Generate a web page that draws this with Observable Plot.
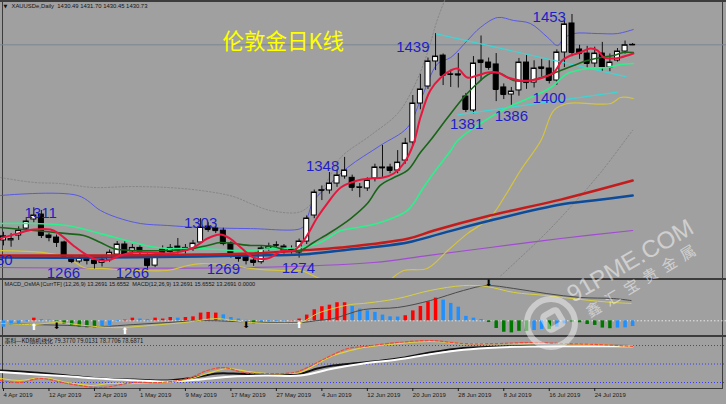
<!DOCTYPE html>
<html><head><meta charset="utf-8">
<script src="https://cdn.jsdelivr.net/npm/d3@7"></script>
<script src="https://cdn.jsdelivr.net/npm/@observablehq/plot@0.6"></script>
<style>
html,body{margin:0;padding:0;background:#a0a0a0;}
#wrap{position:relative;width:726px;height:404px;overflow:hidden;background:#a0a0a0;}
.ln{position:absolute;background:#3c3c3c;}
text{white-space:pre;}
</style></head><body>
<div id="wrap"></div>
<script>
// ---------- data ----------
const tickBars = [0,6,12,18,24,30,36,42,48,54,60,66,72,78];
const tickLabels = ["4 Apr 2019","12 Apr 2019","23 Apr 2019","1 May 2019","9 May 2019","17 May 2019","27 May 2019","4 Jun 2019","12 Jun 2019","20 Jun 2019","28 Jun 2019","8 Jul 2019","16 Jul 2019","24 Jul 2019"];

const open  = [1287,1287,1290.6,1295.7,1302.4,1306,1290.6,1289.1,1285.5,1274.4,1271.5,1273.7,1272.2,1270.5,1272.5,1276.6,1284,1279,1281.5,1276,1268.5,1280.3,1278.5,1282.5,1279.6,1281,1285.5,1297.2,1295.7,1294.2,1284.7,1274.4,1275.2,1272.2,1271,1281,1283.3,1282.5,1280.5,1278.1,1286.2,1305.3,1323.5,1323.7,1328.8,1334,1333,1326,1325.2,1332.5,1340.6,1340.6,1338.4,1345.7,1359,1387.6,1400.1,1418.5,1422.8,1409,1409,1392.7,1382.5,1419.2,1417.7,1416.3,1399.4,1394.2,1397.2,1417.7,1403,1414.1,1413.3,1404.5,1425.1,1446.4,1427.3,1424.3,1417,1424.3,1414.1,1419.2,1425.8,1430.49];
const high  = [1293,1292,1297,1303,1311,1309,1292,1291,1286.5,1276,1276,1275,1273.7,1275,1280,1286.2,1286,1284,1283,1277,1277,1283,1284,1288.4,1284,1287,1303,1300,1297,1296,1286,1277,1277,1274,1283,1285,1286,1284,1283,1288,1305,1324,1327,1336.9,1338.8,1348,1335,1328.8,1333,1343,1356.8,1343,1353,1362,1393.5,1409,1421,1439,1424,1412,1424.3,1395,1422.1,1437.2,1421,1424.3,1402,1399.4,1420.7,1422.9,1419,1420,1419,1427,1448,1453,1430.4,1429.6,1429,1432.5,1424,1428,1433.5,1431.70];
const low   = [1283,1282,1287,1294,1300,1288.4,1286,1281.8,1274.4,1270,1270,1269,1266,1267.5,1271,1273.7,1274,1277,1276,1266,1267,1276,1276,1277,1277,1279,1284,1293,1292,1283,1274,1271,1269,1268,1269.5,1279,1281,1277,1277,1274,1284,1303,1316.3,1321,1326,1332,1323,1318.4,1323,1330,1333.3,1336,1336,1343,1356,1383,1398,1411.8,1400.8,1399.4,1399,1381,1380,1404.2,1412,1389,1390.5,1386,1393,1398,1399,1407,1402,1401,1414,1422,1420,1413.3,1414,1410.4,1411,1418,1424,1430.45];
const close = [1290,1288,1294.2,1300.9,1305.3,1290.6,1289.1,1285.5,1275.2,1271.5,1273.7,1272.2,1270,1272.5,1278,1284,1276.6,1281.5,1279,1268.5,1275.5,1278.1,1281.5,1279.6,1281.5,1284.7,1296.5,1295,1294.2,1284.7,1276.6,1273.7,1272.2,1270.8,1281.1,1282.5,1283.5,1279.6,1280,1286.2,1303.1,1322.2,1323.9,1328.8,1334.7,1338.4,1326,1325.9,1331,1340.6,1340.3,1338.4,1344.2,1358.2,1387.6,1397.9,1418.5,1422.1,1408.2,1408.9,1408.5,1383.2,1417,1417.7,1414.1,1397.9,1394.2,1396.4,1417.7,1403,1413.3,1413.3,1404.5,1425.1,1445.7,1425.1,1424.3,1417,1424.3,1414.1,1417.7,1425.8,1430.4,1430.73];

// indicator lines: [bar, price]
const maRed = [[-0.4,1288.4],[1.8,1292],[4,1295],[6.2,1295],[7.3,1292],[9.2,1283.3],[11.1,1275.9],[12.8,1272.2],[14.1,1273],[15.4,1275.9],[17.2,1278.1],[19.4,1278.1],[21.6,1277.4],[23.4,1278.9],[25.1,1281.8],[26.9,1288.4],[28.6,1291.4],[29.9,1288.4],[31.3,1281.8],[33,1274.4],[34.8,1273.7],[36.9,1279.6],[38.3,1279.6],[39.6,1286.9],[41.4,1303.8],[42.7,1314.1],[44.5,1325.9],[46.7,1331],[48.4,1332.5],[50.1,1333.2],[51.5,1336.2],[52.8,1343.5],[54.1,1358.2],[55,1377.3],[56.3,1397.2],[57.7,1406.7],[59,1411.9],[59.9,1413.3],[61.2,1406.7],[62.5,1408.2],[63.9,1410.4],[65.2,1410.4],[66.5,1406.7],[68.2,1404.5],[69.5,1404.5],[71.2,1406.7],[72.6,1410.4],[73.7,1419.2],[74.8,1422.9],[76.1,1425.1],[77.4,1428],[78.4,1426.5],[79.2,1421.4],[80.5,1420.7],[81.4,1421.4],[83.1,1424.3]];
const maGreen = [[-0.4,1296.5],[4,1294.3],[8.4,1292],[10.6,1290.6],[12.8,1285.5],[14.5,1281.1],[17.2,1279.6],[21.6,1279.6],[24.3,1280.3],[26.9,1283.3],[28.6,1285.5],[30.3,1284.7],[32.6,1283.3],[33.9,1283.3],[35.6,1282.5],[37.5,1279.6],[39.2,1279.6],[40.9,1285.5],[43.1,1292.8],[45.8,1303.1],[48,1314.1],[49.7,1327.4],[51.5,1333.2],[53.3,1338.4],[55,1351.6],[56.3,1360.4],[58.6,1377.3],[60.7,1392],[62.5,1402.3],[64.2,1409.6],[65.6,1409.6],[67.3,1404.5],[69.5,1404.5],[71.8,1408.2],[73.5,1411.9],[75.2,1415.5],[77,1419.2],[78.8,1421.4],[80.5,1422.9],[81.8,1425.1],[83.1,1425.1]];
const maLime = [[-0.4,1299.4],[4,1299.4],[8.4,1298],[12.8,1292],[17.2,1285.5],[19.4,1282.5],[21.6,1281.1],[26,1281.1],[30.3,1279.6],[32.6,1279.6],[35.6,1281.1],[39.2,1281.8],[41.8,1285.5],[44.5,1294.3],[46.7,1296.5],[49.7,1300.2],[53.3,1309],[55.4,1325.9],[56.7,1336.2],[59,1353.1],[59.9,1360.4],[62.9,1372.9],[66.5,1384.7],[69.5,1392],[72.2,1399.4],[74.4,1409.6],[77,1413.3],[79.7,1414.1],[81.4,1416.3],[83.1,1417]];
const maSlowRed = [[-0.4,1275.9],[12.8,1275.9],[26,1276.6],[32.6,1277.4],[39.2,1279.6],[44.5,1281.8],[53.3,1288.2],[56.8,1294.3],[64.2,1305.3],[73.5,1317],[83,1331]];
const maSlowBlue = [[-0.4,1274.4],[12.8,1274.4],[26,1275.2],[32.6,1275.9],[39.2,1276.6],[44.5,1279.6],[53.3,1285.5],[57.7,1292],[64.2,1301.6],[73.5,1313.4],[77.8,1316.3],[83,1320]];
const maPurple = [[-0.4,1267.1],[32.6,1267.1],[48.8,1270.8],[55.9,1275.9],[64.2,1281.8],[73.5,1288.4],[83,1294.3]];
const bandUpper = [[-0.4,1320],[9.8,1320],[12.8,1309],[15,1303.8],[18.1,1299.4],[21.6,1298],[26,1296.5],[32.6,1295.7],[39.2,1295.7],[39.8,1299.4],[40.9,1316.3],[42.2,1323.7],[45.4,1340.6],[49.7,1356.7],[53.3,1370],[55,1389.8],[57.3,1417],[59,1421.4],[61.2,1433.9],[62.9,1443.4],[65.2,1450.8],[67.3,1448.6],[69.5,1446.4],[71.8,1436.1],[73.1,1430.2],[73.9,1435.4],[75.2,1439],[78.4,1439],[81,1439],[83.1,1442]];
const bandLower = [[-0.4,1279.5],[5.3,1278.1],[8.4,1274.4],[10.6,1267.1],[12.8,1266.4],[21.6,1264.9],[24.3,1268.6],[26,1270],[30.3,1268.6],[32.6,1266.4],[36.5,1264.9],[39.2,1264.9],[41.4,1259.8],[44.5,1253.9],[49.7,1253.9],[52.8,1264.9],[55.9,1266.4],[58.6,1279.6],[61.2,1292],[64.2,1303.8],[66.2,1320],[68.2,1338.4],[70.9,1360.4],[72.6,1382.5],[74.4,1387.6],[80.1,1387.6],[81.4,1392],[83.1,1391.3]];
const envUpper = [[-0.4,1333.2],[4,1329.6],[7.5,1328.8],[11.9,1325.9],[16.8,1326.6],[21.6,1325.9],[26,1323.7],[30.3,1319.3],[32.6,1314.1],[35.2,1309],[38.8,1307.5],[40.1,1311.2],[41.8,1322.2],[43.1,1334.7],[44.5,1348],[48.4,1364.1],[52,1380.3],[54.1,1399.4],[55.9,1424.3],[57.2,1448.6],[58.2,1463.3],[59.5,1480]];
const envLower = [[65.6,1261],[71.5,1292],[75.2,1314],[78.8,1337],[83,1368]];
const trendHigh = [[57.1,1438.8],[82.1,1407.4]];
const trendLow  = [[59.9,1379.3],[81,1395.9]];

const peakText = ["1280","1311","1266","1266","1303","1269","1274","1348","1439","1381","1386","1400","1453"];
const peakBar  = [-0.99,4.9,7.9,17,26,29,38.9,42.1,54,61.1,67,72,72];

// MACD_OsMA panel
const osma = [-2.9,-2.1,-1.4,-0.5,1.2,0.5,0.3,-0.3,-1.7,-2.1,-2.9,-3.2,-3.2,-2.9,-2.1,-0.3,0.3,1.2,0.8,0.5,1.2,0.8,1.5,1.2,1.5,1.8,3.5,3.8,3.5,2.7,1.5,0.8,0.2,-1.4,-0.9,-0.5,-0.3,-0.2,0.1,0.8,2.6,5,6.4,7.1,8.2,8.2,6.5,5.3,4.5,3.8,2.6,1.8,1.7,2.3,4.5,6.5,8.6,10.3,9.4,7.9,6.2,2,1.2,0.6,-0.8,-3.5,-5.2,-5.5,-4.8,-4.8,-4.4,-3.9,-3.9,-2.9,-1.4,-0.6,-0.9,-1.7,-2.1,-3.3,-3.6,-3.3,-3.2,-2.6];
const osmaState = "bbbbrbbggg"+"gggbbbrrbb"+"rrrbrrrrrb"+"bbbgbbbbrr"+"rrrrrrbbbb"+"bbbrrrrrbb"+"bbbbgggggg"+"bbgbbggggg"+"gbbb";
const macdMain = [[-0.4,-1.2],[4,-1.7],[8.4,-2.1],[12.8,-2.6],[17.2,-1.7],[21.6,-0.8],[26,0.1],[30.3,-0.3],[34.8,-0.8],[39.2,-0.8],[41.4,0.1],[43.5,1],[47.5,5.1],[52,6.05],[56.3,9.2],[60.7,13.8],[63.7,16],[67.3,14.7],[71.6,12.4],[76.1,10.6],[80.5,10.1],[82.8,9.2]];
const macdSignal = [[-0.4,-1.2],[4,-1.7],[7.1,-0.8],[10.6,-2.1],[14.1,-3.05],[15.8,-3.05],[19.4,-2.1],[23.8,-0.8],[28.2,1],[30.3,0.1],[32.6,-0.8],[37,-1.2],[39.2,-0.8],[41.4,3.3],[43.5,5.6],[45.8,7.4],[47.5,7.9],[52,10.1],[56.3,13.8],[60.7,16],[63.7,15.6],[67.3,12.9],[71.6,11.5],[76.1,9.7],[80.5,8.3],[82.8,7.9]];
const arrowsUp = [[4,-2.9],[16,-4.8],[39,-2.1]];
const arrowsDown = [[7,-2.5],[32,-1.8],[64,17.2]];

// KD panel
const kdLevels = [20,50,80];
const kdBlack  = [[-0.4,39.5],[4,36.2],[8.4,31.4],[12.8,26.5],[17.2,24.9],[21.6,23.3],[24.3,26.5],[28.2,34.6],[30.3,34.6],[34.8,33],[39.2,34.6],[41.4,42.7],[43.5,47.6],[47.5,52.4],[52,58.9],[56.3,68.7],[60.7,76],[65.2,78],[69.5,79.5],[74.8,79.8],[83,79.4]];
const kdWhite  = [[-0.4,37],[8.4,30],[12.8,26],[17.2,23.5],[21.6,21.7],[26,24.9],[30.3,29.8],[34.8,31.4],[39.2,31.4],[43.5,42.7],[47.5,50.8],[52,57.2],[56.3,66],[60.7,73],[65.2,76.8],[69.5,78.4],[75,78.8],[83,79]];
const kdYellow = [[-0.4,26.5],[2.2,23.3],[5.3,28.1],[8.4,20],[11.5,15.2],[14.1,18.4],[17.2,18.4],[20.7,20],[24.3,24.9],[26.9,34.6],[29.6,42.7],[32.2,37.9],[34.8,34.6],[37.9,34.6],[39.2,36.2],[41.4,50.8],[43.5,63.8],[45.8,71.9],[47.5,76.8],[52,83.2],[56.3,86.5],[60.7,83.2],[65.2,83.2],[69.5,83.2],[73.9,83.2],[78.4,81.6],[83,78.8]];
const kdRed    = [[-0.4,23.3],[2.2,20],[4.9,26.5],[8.4,18.4],[12.8,11.9],[17.2,20],[20.7,20],[24.3,26.5],[26.9,39.5],[29,44.3],[31.7,36.2],[34.8,34.6],[38.3,36.2],[40.1,44.3],[42.7,60.6],[45.4,75.1],[47.5,78.4],[52,84.9],[56.3,88.1],[60.7,83.2],[65.2,83.2],[69.5,84.9],[73.9,83.2],[78.4,81.6],[83,78.7]];

const mainHeader = "XAUUSDe,Daily  1430.49 1431.70 1430.45 1430.73";
const macdHeader = "MACD_OsMA [CurrTF] (12,26,9) 13.2691 15.6552  MACD(12,26,9) 13.2691 15.6552 13.2691 0.0000";
const kdHeader = "墨科—KD随机线化 79.3770 79.0131 78.7706 78.6871";
const chartTitle = "伦敦金日K线";

// ---------- layout / styles ----------
const W = 726;
const xDomain = [-0.396, 95.383];
const labelDy = [10.5,5,4,4,4.5,4.5,10,9,14,12,10,11.5,3];
const stateColor = {r:"#ff0000", b:"#1e90ff", g:"#007800"};
const smallFont = "Liberation Sans, Arial, sans-serif";

const wrap = document.getElementById("wrap");

// frame / separators (behind the panels)
[[0,0,W,2],[2,0,1,388],[722,0,1,388],[0,278,W,1.5],[0,335,W,2],[2,388,721,1]].forEach(([l,t,w,h]) => {
  const d = document.createElement("div"); d.className = "ln";
  Object.assign(d.style, {left:l+"px", top:t+"px", width:w+"px", height:h+"px"});
  wrap.appendChild(d);
});

function place(svg, top){
  svg.style.position = "absolute"; svg.style.left = "0px"; svg.style.top = top + "px";
  svg.style.maxWidth = "none"; wrap.appendChild(svg);
}
const pts = a => a.map(([i, v]) => ({i, v}));
const line = (a, o) => Plot.line(pts(a), {x:"i", y:"v", curve:"catmull-rom", clip:true, ...o});

const candles = open.map((o, i) => ({i, o, h:high[i], l:low[i], c:close[i]}));
const labels = peakText.map((t, k) => ({t, i:peakBar[k], v:+t, dy:labelDy[k]}));

const main = Plot.plot({
  width:W, height:278, marginTop:0, marginRight:0, marginBottom:0, marginLeft:0,
  x:{domain:xDomain, axis:null}, y:{domain:[1259.03,1463.29], axis:null},
  color:{type:"identity"},
  style:{background:"transparent", overflow:"visible"},
  marks:[
    Plot.ruleY([close[close.length-1]], {stroke:"#7b8794", strokeWidth:1}),
    line(envUpper, {stroke:"#858585", strokeWidth:1, strokeDasharray:"1.5,2"}),
    line(envLower, {stroke:"#858585", strokeWidth:1, strokeDasharray:"1.5,2"}),
    line(maPurple, {stroke:"#a04cd0", strokeWidth:1.2}),
    line(bandLower, {stroke:"#d6c43c", strokeWidth:1.2}),
    line(bandUpper, {stroke:"#5858e6", strokeWidth:1}),
    Plot.ruleX(candles, {x:"i", y1:"l", y2:"h", stroke:"#111", strokeWidth:1}),
    Plot.rect(candles, {x1:d => d.i - 0.33, x2:d => d.i + 0.33, y1:"o", y2:"c",
      fill:d => d.c >= d.o ? "#ffffff" : "#000000", stroke:"#000", strokeWidth:1}),
    Plot.ruleY(candles, {y:"c", x1:d => d.i - 0.33, x2:d => d.i + 0.33, stroke:"#000", strokeWidth:1}),
    line(trendHigh, {stroke:"#3cd6d6", strokeWidth:1.2, curve:"linear"}),
    line(trendLow, {stroke:"#3cd6d6", strokeWidth:1.2, curve:"linear"}),
    line(maSlowBlue, {stroke:"#0c4a9a", strokeWidth:2.5}),
    line(maSlowRed, {stroke:"#c41c1c", strokeWidth:2.5}),
    line(maLime, {stroke:"#2cf08c", strokeWidth:1.6}),
    line(maGreen, {stroke:"#186418", strokeWidth:1.6}),
    line(maRed, {stroke:"#e8163e", strokeWidth:2}),
    ...labels.map(l => Plot.text([l], {x:"i", y:"v", text:"t", dy:l.dy, fill:"#1e1ec8",
      fontSize:15, fontFamily:smallFont, textAnchor:"middle", lineAnchor:"middle"})),
    Plot.text([chartTitle], {frameAnchor:"top-left", dx:222, dy:42, textAnchor:"start", lineAnchor:"middle",
      fill:"#ffff00", fontSize:21.5, fontFamily:"Noto Sans CJK SC"}),
    Plot.text(["▼"], {frameAnchor:"top-left", dx:3, dy:6, textAnchor:"start", lineAnchor:"middle",
      fill:"#111", fontSize:5, fontFamily:"DejaVu Sans"}),
    Plot.text([mainHeader], {frameAnchor:"top-left", dx:11, dy:6, textAnchor:"start", lineAnchor:"middle",
      fill:"#151515", fontSize:5.9, fontFamily:smallFont})
  ]
});
place(main, 0);

const hist = osma.map((v, i) => ({i, v, k:osmaState[i]}));
const macd = Plot.plot({
  width:W, height:55, marginTop:0, marginRight:0, marginBottom:0, marginLeft:0,
  x:{domain:xDomain, axis:null}, y:{domain:[-6.23,18.77], axis:null},
  color:{type:"identity"},
  style:{background:"transparent", overflow:"visible"},
  marks:[
    Plot.ruleY([0], {stroke:"#e6e6e6", strokeWidth:1, strokeDasharray:"1.5,2"}),
    Plot.ruleX(hist, {x:"i", y1:0, y2:"v", stroke:d => stateColor[d.k], strokeWidth:3.5}),
    line(macdMain, {stroke:"#4a4a4a", strokeWidth:1}),
    line(macdSignal, {stroke:"#d8d040", strokeWidth:1}),
    Plot.text(pts(arrowsUp), {x:"i", y:"v", text:() => "⬆", fill:"#ffffff", fontSize:9, fontFamily:"DejaVu Sans"}),
    Plot.text(pts(arrowsDown), {x:"i", y:"v", text:() => "⬇", fill:"#000000", fontSize:9, fontFamily:"DejaVu Sans"}),
    Plot.text([macdHeader], {frameAnchor:"top-left", dx:4, dy:5, textAnchor:"start", lineAnchor:"middle",
      fill:"#151515", fontSize:5.6, fontFamily:smallFont})
  ]
});
place(macd, 279);

const kd = Plot.plot({
  width:W, height:67, marginTop:0, marginRight:0, marginBottom:16, marginLeft:0,
  x:{domain:xDomain, axis:null}, y:{domain:[10.3,93], axis:null},
  color:{type:"identity"},
  style:{background:"transparent", overflow:"visible"},
  marks:[
    Plot.ruleY(kdLevels, {stroke:"#3c3cf0", strokeWidth:1, strokeDasharray:"1,2"}),
    line(kdBlack, {stroke:"#111111", strokeWidth:2}),
    line(kdWhite, {stroke:"#ffffff", strokeWidth:2}),
    line(kdYellow, {stroke:"#e2d23e", strokeWidth:1.2}),
    line(kdRed, {stroke:"#ec4a3a", strokeWidth:1.2, strokeDasharray:"3,2"}),
    Plot.axisX({ticks:tickBars, tickFormat:d => tickLabels[tickBars.indexOf(d)], tickSize:3, tickPadding:1,
      textAnchor:"start", fontSize:6, fontFamily:smallFont, color:"#1a1a1a", dx:0, label:null}),
    Plot.text([kdHeader], {frameAnchor:"top-left", dx:4, dy:3.5, textAnchor:"start", lineAnchor:"middle",
      fill:"#151515", fontSize:5.9, fontFamily:"Noto Sans CJK SC, " + smallFont})
  ]
});
place(kd, 337);

// watermark
const ns = "http://www.w3.org/2000/svg";
const wm = document.createElementNS(ns, "svg");
wm.setAttribute("width", W); wm.setAttribute("height", 404);
wm.style.cssText = "position:absolute;left:0;top:0;pointer-events:none";
wm.innerHTML = `
 <g fill="none" stroke="rgba(255,255,255,0.45)" stroke-width="6">
  <circle cx="551" cy="323" r="24"/>
  <rect x="-8" y="-8" width="16" height="16" rx="3" transform="translate(553,320) rotate(-30)"/>
 </g>
 <text transform="translate(573,303) rotate(-30)" font-family="Liberation Sans" font-size="24" fill="rgba(255,255,255,0.5)">91PME.COM</text>
 <text transform="translate(590,318) rotate(-31)" font-family="Noto Sans CJK SC" font-size="15" letter-spacing="7" fill="rgba(255,255,255,0.5)">鑫汇宝贵金属</text>`;
wrap.appendChild(wm);
</script></body></html>
